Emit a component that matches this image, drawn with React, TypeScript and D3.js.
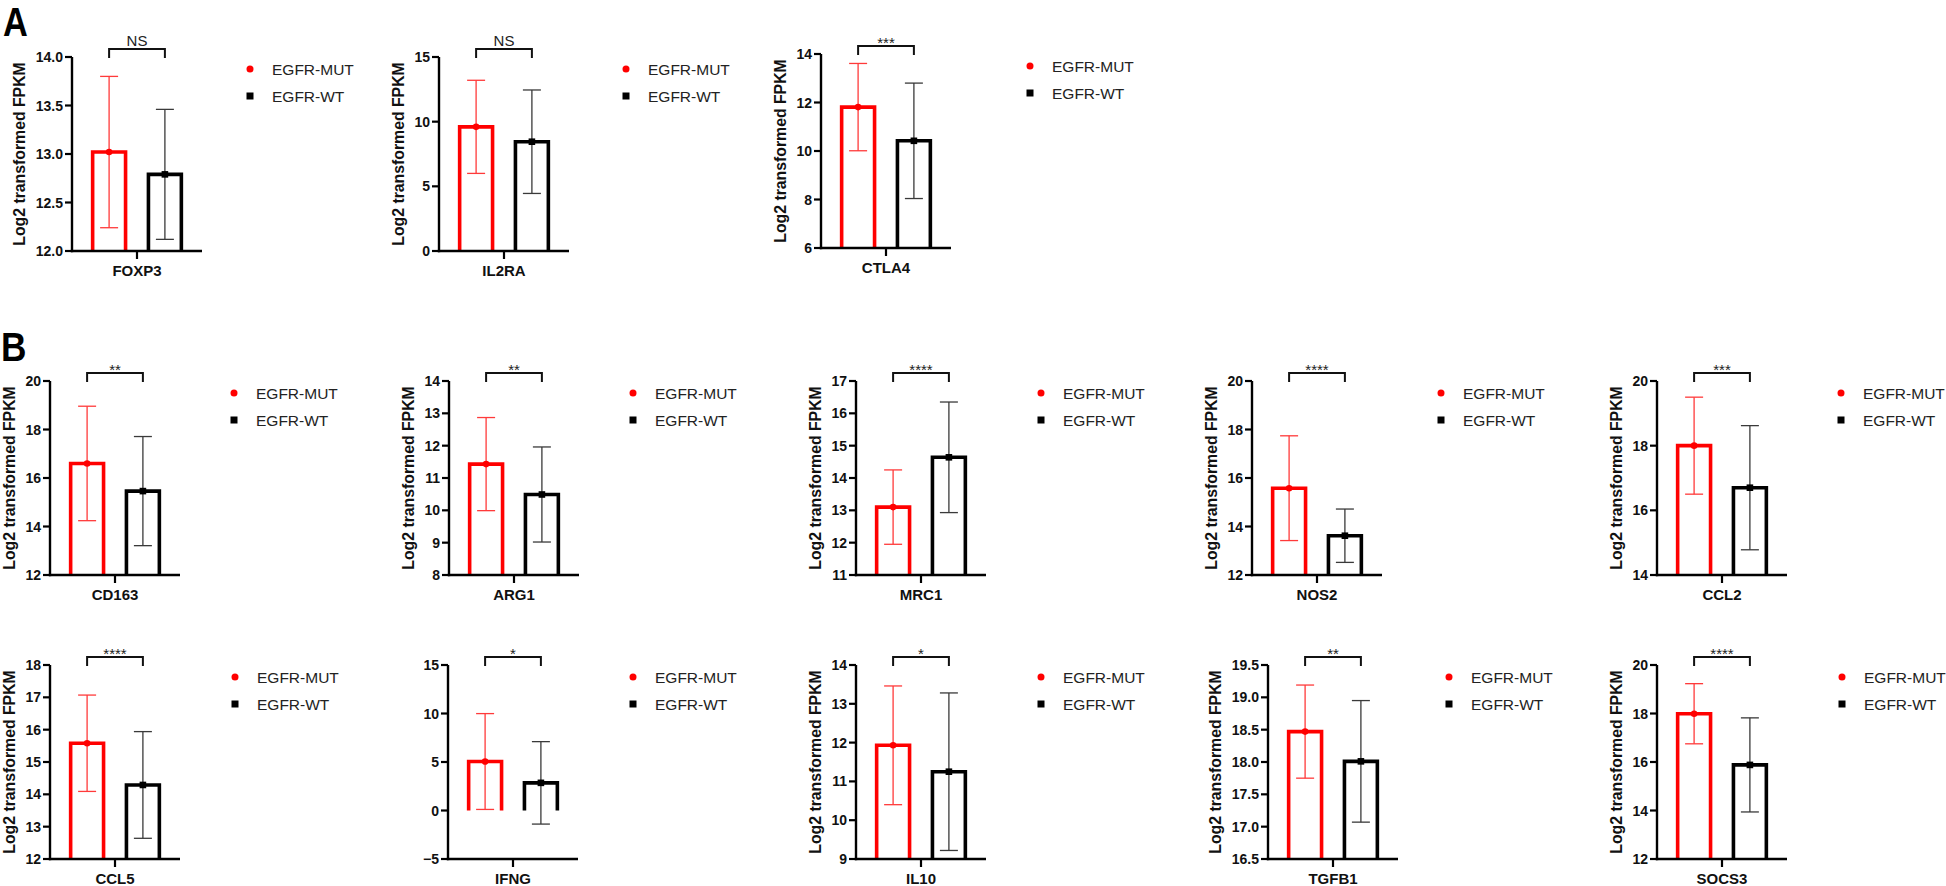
import React from "react";
import * as d3 from "d3";

// ---------- data ----------
const genes = ["FOXP3", "IL2RA", "CTLA4", "CD163", "ARG1", "MRC1", "NOS2", "CCL2", "CCL5", "IFNG", "IL10", "TGFB1", "SOCS3"];
const mutMean = [13.02, 9.6, 11.81, 16.6, 11.43, 13.1, 15.58, 18.0, 15.58, 5.05, 11.93, 18.47, 17.99];
const mutSD = [0.78, 3.6, 1.8, 2.36, 1.44, 1.15, 2.16, 1.5, 1.49, 4.94, 1.53, 0.72, 1.24];
const wtMean = [12.79, 8.45, 10.42, 15.46, 10.49, 14.64, 13.62, 16.7, 14.29, 2.85, 11.25, 18.01, 15.88];
const wtSD = [0.67, 4.0, 2.38, 2.25, 1.47, 1.71, 1.1, 1.92, 1.65, 4.25, 2.03, 0.94, 1.94];
const yTicks = [
  [12.0, 12.5, 13.0, 13.5, 14.0],
  [0, 5, 10, 15],
  [6, 8, 10, 12, 14],
  [12, 14, 16, 18, 20],
  [8, 9, 10, 11, 12, 13, 14],
  [11, 12, 13, 14, 15, 16, 17],
  [12, 14, 16, 18, 20],
  [14, 16, 18, 20],
  [12, 13, 14, 15, 16, 17, 18],
  [-5, 0, 5, 10, 15],
  [9, 10, 11, 12, 13, 14],
  [16.5, 17.0, 17.5, 18.0, 18.5, 19.0, 19.5],
  [12, 14, 16, 18, 20],
];
const tickDecimals = [1, 0, 0, 0, 0, 0, 0, 0, 0, 0, 0, 1, 0];
const sigLabels = ["NS", "NS", "***", "**", "**", "****", "****", "***", "****", "*", "*", "**", "****"];
const groups = ["EGFR-MUT", "EGFR-WT"];
const yTitle = "Log2 transformed FPKM";
const panelLetters = ["A", "B"];

// ---------- layout ----------
const layout = [
  { ax: 72, top: 57, lx: 250, title: true },
  { ax: 439, top: 57, lx: 626, title: true },
  { ax: 821, top: 54, lx: 1030, title: true },
  { ax: 50, top: 381, lx: 234, title: true },
  { ax: 449, top: 381, lx: 633, title: true },
  { ax: 856, top: 381, lx: 1041, title: true },
  { ax: 1252, top: 381, lx: 1441, title: true },
  { ax: 1657, top: 381, lx: 1841, title: true },
  { ax: 50, top: 665, lx: 235, title: true },
  { ax: 448, top: 665, lx: 633, title: false },
  { ax: 856, top: 665, lx: 1041, title: true },
  { ax: 1268, top: 665, lx: 1449, title: true },
  { ax: 1657, top: 665, lx: 1842, title: true },
];
const letterPos = [
  { x: 3, y: 36, size: 40 },
  { x: 1, y: 361, size: 41 },
];

const W = 1946;
const H = 886;
const PH = 194;
const PW = 130;
const RED = "#ff0000";
const FONT = "Arial, 'Liberation Sans', sans-serif";

function Panel({ i }: { i: number }) {
  const L = layout[i];
  const ticks = yTicks[i];
  const y = d3.scaleLinear().domain([ticks[0], ticks[ticks.length - 1]]).range([L.top + PH, L.top]);
  const x = d3.scaleBand().domain(groups).range([L.ax, L.ax + PW]).paddingInner(0.41).paddingOuter(0.37);
  const bw = x.bandwidth();
  const base = ticks[0] > 0 ? ticks[0] : 0;
  const fmt = d3.format(`.${tickDecimals[i]}f`);
  const bottom = L.top + PH;
  const cx = L.ax + PW / 2;
  const means = [mutMean[i], wtMean[i]];
  const sds = [mutSD[i], wtSD[i]];
  const colors = [RED, "#000"];
  const ebColors = ["#ff3a3a", "#3a3a3a"];
  const centers = groups.map((g) => (x(g) as number) + bw / 2);
  const titleOffset = tickDecimals[i] ? 53 : 41;
  const brY = L.top - 8;
  return (
    <g>
      {/* bars */}
      {groups.map((g, k) => {
        const x0 = x(g) as number;
        const yt = y(means[k]);
        const yb = y(base);
        return (
          <path
            key={g}
            d={`M${x0},${yb}V${yt}H${x0 + bw}V${yb}`}
            fill="none"
            stroke={colors[k]}
            strokeWidth={3.6}
          />
        );
      })}
      {/* error bars */}
      {groups.map((g, k) => {
        const c = centers[k];
        const hi = y(means[k] + sds[k]);
        const lo = y(means[k] - sds[k]);
        return (
          <g key={g} stroke={ebColors[k]} strokeWidth={1.3}>
            <line x1={c} x2={c} y1={hi} y2={lo} />
            <line x1={c - 9} x2={c + 9} y1={hi} y2={hi} />
            <line x1={c - 9} x2={c + 9} y1={lo} y2={lo} />
          </g>
        );
      })}
      {/* mean markers */}
      <circle cx={centers[0]} cy={y(means[0])} r={3.3} fill={RED} />
      <rect x={centers[1] - 3.3} y={y(means[1]) - 3.3} width={6.6} height={6.6} fill="#000" />
      {/* axes */}
      <line x1={L.ax} x2={L.ax} y1={L.top} y2={bottom + 1.2} stroke="#000" strokeWidth={2.4} />
      <line x1={L.ax - 1.2} x2={L.ax + PW} y1={bottom} y2={bottom} stroke="#000" strokeWidth={2.4} />
      <line x1={cx} x2={cx} y1={bottom} y2={bottom + 8} stroke="#000" strokeWidth={2.2} />
      {ticks.map((t) => (
        <g key={t}>
          <line x1={L.ax - 7} x2={L.ax} y1={y(t)} y2={y(t)} stroke="#000" strokeWidth={2.2} />
          <text
            x={L.ax - 9}
            y={y(t)}
            dy="0.36em"
            textAnchor="end"
            fontFamily={FONT}
            fontWeight="bold"
            fontSize={14}
            fill="#111"
          >
            {fmt(t)}
          </text>
        </g>
      ))}
      <text x={cx} y={bottom + 25} textAnchor="middle" fontFamily={FONT} fontWeight="bold" fontSize={15} fill="#111">
        {genes[i]}
      </text>
      {L.title && (
        <text
          transform={`translate(${L.ax - titleOffset},${L.top + PH / 2}) rotate(-90)`}
          dy="0.36em"
          textAnchor="middle"
          fontFamily={FONT}
          fontWeight="bold"
          fontSize={15.8}
          fill="#111"
        >
          {yTitle}
        </text>
      )}
      {/* significance bracket */}
      <path
        d={`M${centers[0]},${L.top + 1}V${brY}H${centers[1]}V${L.top + 1}`}
        fill="none"
        stroke="#111"
        strokeWidth={2}
      />
      <text
        x={cx}
        y={sigLabels[i] === "NS" ? L.top - 11 : L.top - 6}
        textAnchor="middle"
        fontFamily={FONT}
        fontSize={15}
        fill="#222"
      >
        {sigLabels[i]}
      </text>
      {/* legend */}
      <circle cx={L.lx} cy={L.top + 12} r={3.5} fill={RED} />
      <rect x={L.lx - 3.5} y={L.top + 39 - 3.5} width={7} height={7} fill="#000" />
      {groups.map((g, k) => (
        <text
          key={g}
          x={L.lx + 22}
          y={L.top + 12 + 27 * k}
          dy="0.36em"
          fontFamily={FONT}
          fontSize={15.5}
          fill="#222"
        >
          {g}
        </text>
      ))}
    </g>
  );
}

export default function App() {
  return (
    <svg
      width={W}
      height={H}
      viewBox={`0 0 ${W} ${H}`}
      style={{ position: "absolute", left: 0, top: 0, background: "#fff" }}
    >
      <rect width={W} height={H} fill="#fff" />
      {panelLetters.map((l, k) => (
        <text
          key={l}
          transform={`translate(${letterPos[k].x},${letterPos[k].y}) scale(0.86,1)`}
          fontFamily={FONT}
          fontWeight={600}
          fontSize={letterPos[k].size}
          fill="#000"
        >
          {l}
        </text>
      ))}
      {genes.map((g, i) => (
        <Panel key={g} i={i} />
      ))}
    </svg>
  );
}
